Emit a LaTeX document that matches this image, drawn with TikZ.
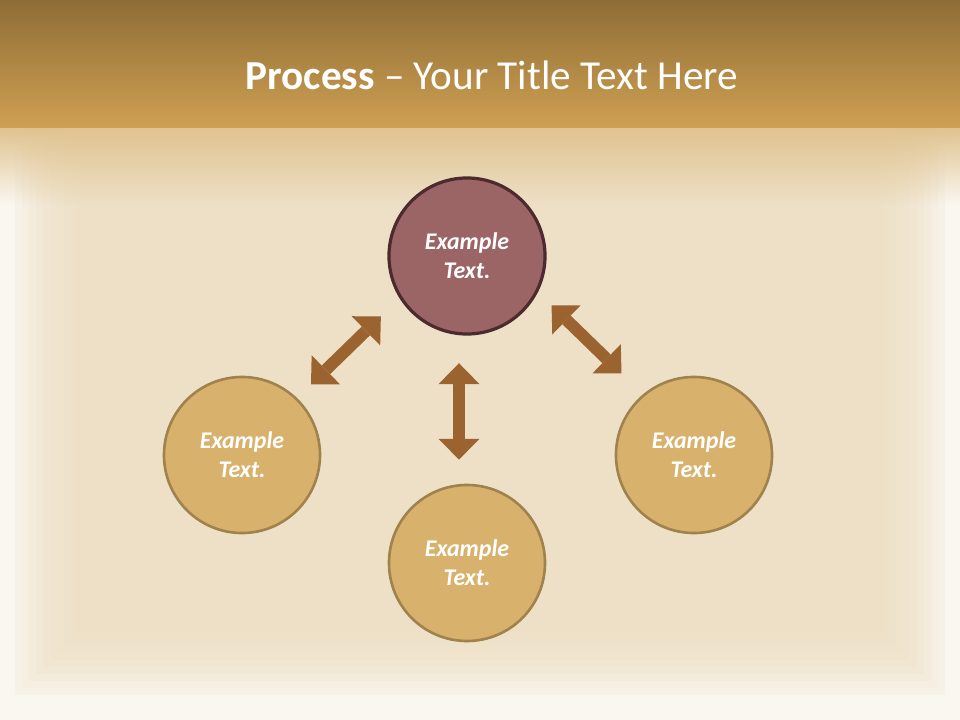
\documentclass[tikz,border=0pt]{standalone}
\usepackage{fontspec}
\setmainfont{Carlito}
\usetikzlibrary{arrows.meta, fadings}
\definecolor{bandtop}{HTML}{8E6D36}
\definecolor{bandbot}{HTML}{CFA052}
\definecolor{paper}{HTML}{EEDFC3}
\definecolor{paperedge}{HTML}{FAF7F0}
\definecolor{goldfill}{HTML}{D8B26C}
\definecolor{goldline}{HTML}{A0824D}
\definecolor{rosefill}{HTML}{9B6565}
\definecolor{roseline}{HTML}{4B2B2E}
\definecolor{arrowbrown}{HTML}{9B6330}
\tikzstyle{goldn} = [circle, minimum size=3.9cm, inner sep=0pt, align=center, font=\fontsize{17}{20.5}\selectfont\bfseries\itshape, text=white, draw=goldline, line width=0.065cm, fill=goldfill]
\tikzstyle{rosen} = [goldn, draw=roseline, fill=rosefill, line width=0.08cm]
\tikzstyle{dblarrow} = [line width=0.3cm, draw=arrowbrown, {Triangle[length=0.52cm,width=1.02cm,line width=0pt]}-{Triangle[length=0.52cm,width=1.02cm,line width=0pt]}]
\begin{document}
\begin{tikzpicture}[x=0.025cm, y=-0.025cm]
  \useasboundingbox (0,0) rectangle (960,720);
  % background
  \fill [paperedge] (0,0) rectangle (960,720);
  \foreach \i in {0,...,9}
    \fill [paper, opacity=0.17] (15+7*\i,128) rectangle (945-7*\i,695-7*\i);
  \fill [bandbot!45!paper, path fading=south] (0,128) rectangle (960,205);
  \shade [top color=bandtop, bottom color=bandbot] (0,0) rectangle (960,128);
  \node (TITLE) [text=white, font=\fontsize{29.3}{35}\selectfont] at (492,75) {\textbf{Process} -- Your Title Text Here};

  % circles
  \node (TOP) [rosen] at (467,256) {Example\\Text.};
  \node (LEFT) [goldn] at (242,455) {Example\\Text.};
  \node (RIGHT) [goldn] at (694,455) {Example\\Text.};
  \node (BOTTOM) [goldn] at (467,563) {Example\\Text.};

  % arrows
  \draw [dblarrow, shorten <=0.485cm, shorten >=0.65cm] (LEFT.46) -- (TOP.212);
  \draw [dblarrow, shorten <=0.475cm, shorten >=0.75cm] (TOP.-27) -- (RIGHT.130);
  \draw [dblarrow, shorten <=0.6cm, shorten >=0.69cm] ([xshift=-0.2cm]BOTTOM.north) -- ([xshift=-0.2cm]TOP.south);
\end{tikzpicture}
\end{document}
